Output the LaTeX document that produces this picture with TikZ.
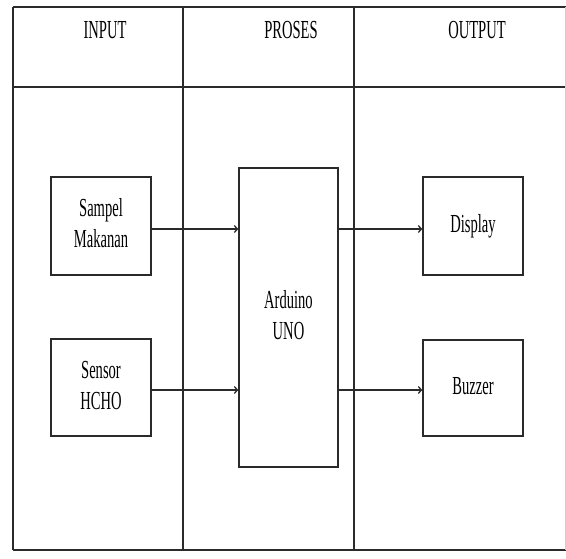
\documentclass[tikz,border=0pt]{standalone}
\usepackage{fontspec}
\usepackage{graphicx}
\setmainfont{Liberation Serif}
\usetikzlibrary{arrows.meta,calc}
\newcommand{\lbl}[1]{\scalebox{0.56}[1]{\begin{tabular}{@{}c@{}}#1\end{tabular}}}
\definecolor{ln}{HTML}{2A2A2A}
\tikzset{
  grid/.style={draw=ln, line width=1.3pt},
  blk/.style={draw=ln, line width=1.6pt, inner sep=0pt, font=\fontsize{26}{31}\selectfont},
  txt/.style={inner sep=0pt, font=\fontsize{26}{31}\selectfont},
  arr/.style={draw=ln, line width=1.4pt, -{Straight Barb[length=3pt,width=7pt,line width=1.3pt]}}
}
\begin{document}
\begin{tikzpicture}[x=1pt,y=-1pt]
\useasboundingbox (0,0) rectangle (566,559);
\fill[white] (0,0) rectangle (566,559);
% table
\draw[grid] (13,7) -- (566,7);
\draw[grid] (13,87) -- (566,87);
\draw[draw=ln, line width=2pt] (13,550) -- (566,550);
\draw[grid] (13,7) -- (13,550);
\draw[grid] (183,7) -- (183,550);
\draw[grid] (354,7) -- (354,550);
\draw[draw=gray!40, line width=1pt] (565,7) -- (565,550);
% headers
\node[txt] (hin) at (105,32) {\lbl{INPUT}};
\node[txt] (hpr) at (291,32) {\lbl{PROSES}};
\node[txt] (hout) at (477,32) {\lbl{OUTPUT}};
% boxes
\node[blk, minimum width=100pt, minimum height=98pt] (sampel) at (101,226) {\lbl{Sampel\\Makanan}};
\node[blk, minimum width=100pt, minimum height=97pt] (sensor) at (101,387.5) {\lbl{Sensor\\HCHO}};
\node[blk, minimum width=99pt, minimum height=299pt] (ard) at (288.5,317.5) {\lbl{Arduino\\UNO}};
\node[blk, minimum width=100pt, minimum height=98pt] (disp) at (473,226) {\lbl{Display}};
\node[blk, minimum width=100pt, minimum height=96pt] (buzz) at (473,388) {\lbl{Buzzer}};
% arrows
\coordinate (a1) at ($(sampel.east)+(0,3)$);
\coordinate (a2) at ($(sensor.east)+(0,2.5)$);
\coordinate (b1) at ($(disp.west)+(0,3)$);
\coordinate (b2) at ($(buzz.west)+(0,2)$);
\draw[arr] (a1) -- (a1 -| ard.west);
\draw[arr] (a2) -- (a2 -| ard.west);
\draw[arr] (b1 -| ard.east) -- (b1);
\draw[arr] (b2 -| ard.east) -- (b2);
\end{tikzpicture}
\end{document}
